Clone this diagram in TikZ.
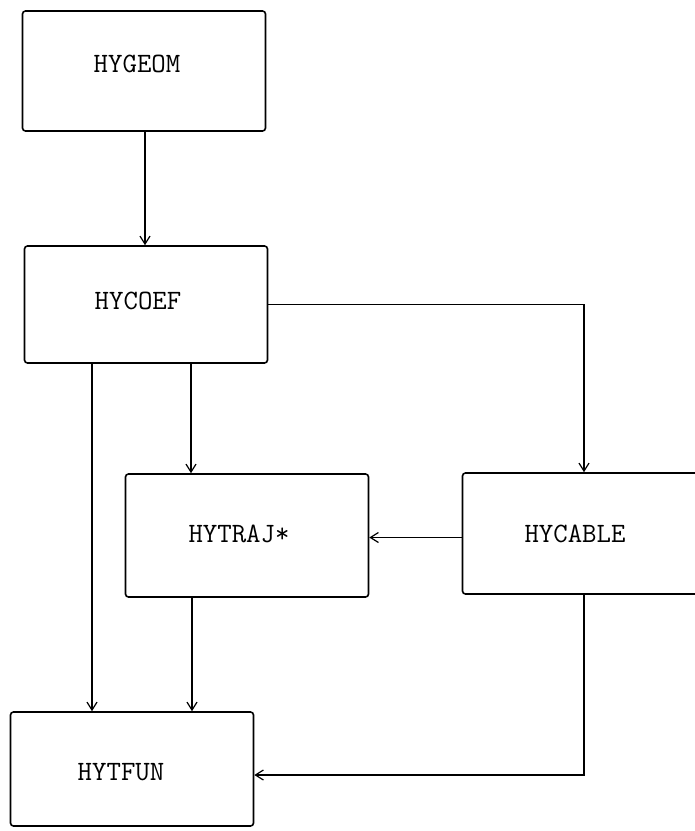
\documentclass[tikz,border=0pt]{standalone}
\usepackage{fontspec}
\usetikzlibrary{arrows.meta}
\begin{document}
\begin{tikzpicture}[x=1pt,y=-1pt,
  box/.style={draw, line width=1.6pt, rounded corners=3pt, minimum width=243pt, inner sep=0pt},
  txt/.style={font=\ttfamily\fontsize{28}{32}\selectfont},
  arr/.style={line width=1.3pt, -{Straight Barb[length=8pt,width=10pt,line width=1.2pt]}},
  ln/.style={line width=1.3pt}]
\useasboundingbox (0,0) rectangle (695,831);
\node[box, minimum height=120pt, label={[txt,xshift=-7pt,yshift=7pt]center:HYGEOM}] (geom) at (144,71) {};
\node[box, minimum height=117pt, label={[txt,xshift=-8pt,yshift=4pt]center:HYCOEF}] (coef) at (146,304.5) {};
\node[box, minimum height=123pt, label={[txt,xshift=-8pt,yshift=2pt]center:HYTRAJ*}] (traj) at (247,535.5) {};
\node[box, minimum height=121pt, label={[txt,xshift=-9pt,yshift=0pt]center:HYCABLE}] (cable) at (584,533.5) {};
\node[box, minimum height=114pt, label={[txt,xshift=-11pt,yshift=-3pt]center:HYTFUN}] (tfun) at (132,769) {};
\draw[arr] ([xshift=1pt]geom.south) -- ([xshift=1pt]geom.south |- coef.north);
\draw[arr] (coef.east) -| (cable.north);
\draw[arr] ([xshift=-54pt]coef.south) -- ([xshift=-54pt]coef.south |- tfun.north);
\draw[arr] ([xshift=45pt]coef.south) -- ([xshift=45pt]coef.south |- traj.north);
\draw[arr] ([xshift=-55pt]traj.south) -- ([xshift=-55pt]traj.south |- tfun.north);
\draw[arr] ([yshift=-2pt]traj.east -| cable.west) -- ([yshift=-2pt]traj.east);
\draw[arr] (cable.south) |- ([yshift=-6pt]tfun.east);
\end{tikzpicture}
\end{document}
